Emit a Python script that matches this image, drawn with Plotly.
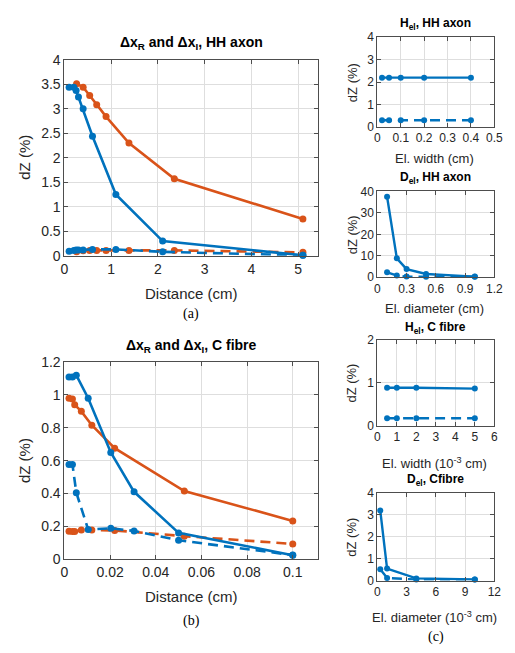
import plotly.graph_objects as go

W, H = 515, 653
BLUE = "#0072BD"
ORANGE = "#D95319"
TXT = "#262626"

# ---- (a) HH axon, distance ----
a_xR_blue = [0.1, 0.2, 0.25, 0.3, 0.4, 0.6, 1.1, 2.1, 5.1]
a_yR_blue = [3.44, 3.44, 3.37, 3.24, 3.0, 2.44, 1.25, 0.30, 0.01]
a_yI_blue = [0.09, 0.11, 0.12, 0.12, 0.12, 0.13, 0.13, 0.08, 0.01]
a_x_orange = [0.26, 0.4, 0.54, 0.69, 0.89, 1.38, 2.35, 5.1]
a_yR_orange = [3.51, 3.44, 3.27, 3.08, 2.84, 2.30, 1.57, 0.75]
a_yI_orange = [0.08, 0.10, 0.11, 0.11, 0.11, 0.11, 0.11, 0.07]

# ---- (b) C fibre, distance ----
b_x_blue = [0.002, 0.0035, 0.0052, 0.0104, 0.0203, 0.0305, 0.05, 0.1]
b_yR_blue = [1.11, 1.11, 1.12, 0.98, 0.65, 0.41, 0.16, 0.024]
b_yI_blue = [0.577, 0.577, 0.405, 0.18, 0.188, 0.172, 0.115, 0.025]
b_x_orange = [0.002, 0.0035, 0.0045, 0.0074, 0.012, 0.022, 0.0525, 0.1]
b_yR_orange = [0.98, 0.975, 0.94, 0.90, 0.816, 0.676, 0.415, 0.233]
b_yI_orange = [0.17, 0.168, 0.168, 0.177, 0.178, 0.175, 0.14, 0.093]

# ---- (c) electrode parameters ----
c1_x = [0.02, 0.05, 0.1, 0.2, 0.4]
c1_yR = [2.2, 2.2, 2.2, 2.2, 2.2]
c1_yI = [0.3, 0.3, 0.3, 0.3, 0.3]

c2_x = [0.1, 0.2, 0.3, 0.5, 1.0]
c2_yR = [37.5, 8.8, 3.8, 1.5, 0.3]
c2_yI = [2.3, 0.8, 0.3, 0.2, 0.2]

c3_x = [0.5, 1, 2, 5]
c3_yR = [0.88, 0.88, 0.88, 0.86]
c3_yI = [0.17, 0.17, 0.17, 0.17]

c4_x = [0.3, 1, 4, 10]
c4_yR = [3.2, 0.55, 0.1, 0.05]
c4_yI = [0.52, 0.12, 0.05, 0.05]


def fx(p):
    return p / W


def fy(p):
    return 1 - p / H


fig = go.Figure()

DASH = "10px,6px"


def line(x, y, color, dash, ax, lw=2.6, ms=7):
    fig.add_trace(go.Scatter(
        x=x, y=y, mode="lines+markers",
        line=dict(color=color, width=lw, dash=dash),
        marker=dict(color=color, size=ms, symbol="circle"),
        xaxis="x" + ax, yaxis="y" + ax, cliponaxis=False,
        showlegend=False, hoverinfo="skip"))


# panel 1 (a)
line(a_x_orange, a_yI_orange, ORANGE, DASH, "")
line(a_xR_blue, a_yI_blue, BLUE, DASH, "")
line(a_x_orange, a_yR_orange, ORANGE, "solid", "")
line(a_xR_blue, a_yR_blue, BLUE, "solid", "")
# panel 2 (b)
line(b_x_orange, b_yI_orange, ORANGE, DASH, "2")
line(b_x_blue, b_yI_blue, BLUE, DASH, "2")
line(b_x_orange, b_yR_orange, ORANGE, "solid", "2")
line(b_x_blue, b_yR_blue, BLUE, "solid", "2")
# panels c
line(c1_x, c1_yI, BLUE, DASH, "3", lw=2.4, ms=6)
line(c1_x, c1_yR, BLUE, "solid", "3", lw=2.4, ms=6)
line(c2_x, c2_yI, BLUE, DASH, "4", lw=2.4, ms=6)
line(c2_x, c2_yR, BLUE, "solid", "4", lw=2.4, ms=6)
line(c3_x, c3_yI, BLUE, DASH, "5", lw=2.4, ms=6)
line(c3_x, c3_yR, BLUE, "solid", "5", lw=2.4, ms=6)
line(c4_x, c4_yI, BLUE, DASH, "6", lw=2.4, ms=6)
line(c4_x, c4_yR, BLUE, "solid", "6", lw=2.4, ms=6)


def axis(dom, rng, dtick, anchor, fs):
    return dict(domain=dom, range=rng, dtick=dtick, tick0=0, anchor=anchor,
                showgrid=True, gridcolor="#dedede", gridwidth=1,
                zeroline=False, showline=True, linecolor="#4d4d4d", linewidth=1,
                mirror="ticks", ticks="inside", ticklen=4, tickcolor="#4d4d4d",
                tickfont=dict(family="Liberation Sans, Arial", size=fs, color=TXT),
                fixedrange=True)


panels = [
    # name, x px, y px, xrange, xdtick, yrange, ydtick, fontsize
    ("", (62, 322), (53, 254), [0, 5.42], 1, [0, 4], 0.5, 14),
    ("2", (62, 322), (363, 565), [0, 0.111], 0.02, [0, 1.2], 0.2, 14),
    ("3", (383, 503), (30, 122), [0, 0.5], 0.1, [0, 4], 1, 12),
    ("4", (383, 503), (188, 276), [0, 1.2], 0.3, [0, 40], 10, 12),
    ("5", (383, 503), (340, 428), [0, 6], 1, [0, 2], 1, 12),
    ("6", (383, 503), (497, 587), [0, 12], 3, [0, 4], 1, 12),
]

lay = {}
for name, xp, yp, xr, xd, yr, yd, fs in panels:
    xd_ = [fx(xp[0]), fx(xp[1])]
    yd_ = [fy(yp[1]), fy(yp[0])]
    lay["xaxis" + name] = axis(xd_, xr, xd, "y" + name, fs)
    lay["yaxis" + name] = axis(yd_, yr, yd, "x" + name, fs)

ann = []


def text(s, x, y, size, bold=False, angle=0, serif=False):
    ann.append(dict(
        text=("<b>%s</b>" % s) if bold else s,
        x=fx(x), y=fy(y), xref="paper", yref="paper",
        xanchor="center", yanchor="middle", showarrow=False, textangle=angle,
        font=dict(family="Liberation Serif, Times New Roman" if serif else "Liberation Sans, Arial",
                  size=size, color="#000" if (bold or serif) else TXT)))


# left titles & labels
text("Δx<sub>R</sub> and Δx<sub>I</sub>, HH axon", 192, 36, 14, bold=True)
text("Distance (cm)", 192, 293, 15)
text("(a)", 192, 314, 14, serif=True)
text("dZ (%)", 21, 153, 15, angle=-90)

text("Δx<sub>R</sub> and Δx<sub>I</sub>, C fibre", 192, 346, 14, bold=True)
text("Distance (cm)", 192, 603, 15)
text("(b)", 192, 628, 14, serif=True)
text("dZ (%)", 21, 464, 15, angle=-90)

# right titles & labels
text("H<sub>el</sub>, HH axon", 443, 16, 12, bold=True)
text("El. width (cm)", 442, 154, 13)
text("dZ (%)", 357, 76, 13, angle=-90)

text("D<sub>el</sub>, HH axon", 443, 174, 12, bold=True)
text("El. diameter (cm)", 442, 308, 13)
text("dZ (%)", 357, 232, 13, angle=-90)

text("H<sub>el</sub>, C fibre", 443, 328, 12, bold=True)
text("El. width (10<sup>-3</sup> cm)", 442, 466, 13)
text("dZ (%)", 357, 384, 13, angle=-90)

text("D<sub>el</sub>, Cfibre", 443, 484, 12, bold=True)
text("El. diameter (10<sup>-3</sup> cm)", 442, 624, 13)
text("dZ (%)", 357, 542, 13, angle=-90)
text("(c)", 443, 645, 14, serif=True)

fig.update_layout(
    width=W, height=H, margin=dict(l=0, r=0, t=0, b=0),
    paper_bgcolor="white", plot_bgcolor="white",
    annotations=ann, showlegend=False, **lay)

fig.write_html("out.html", config={"displayModeBar": False},
               post_script="document.body.style.margin='0';document.body.style.overflow='hidden';")
